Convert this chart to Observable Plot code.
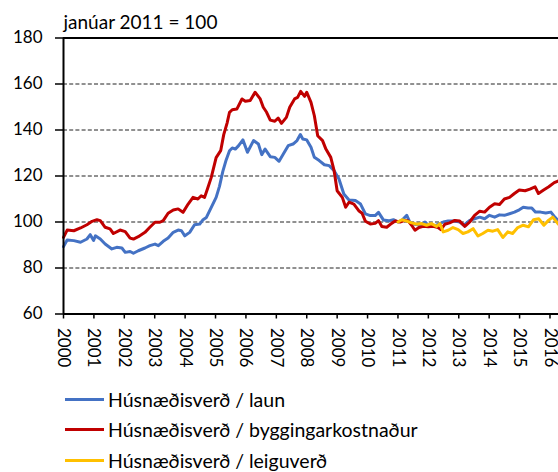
<!DOCTYPE html>
<html><head><meta charset="utf-8">
<script src="https://cdn.jsdelivr.net/npm/d3@7"></script>
<script src="https://cdn.jsdelivr.net/npm/@observablehq/plot@0.6"></script>
<style>
body{margin:0;background:#fff;font-family:Lato,"Open Sans",sans-serif;}
#wrap{position:relative;width:558px;height:472px;overflow:hidden;background:#fff;}
.leg{position:absolute;left:65px;display:flex;align-items:center;font-size:19.5px;color:#000;height:24px;white-space:nowrap;}
.sw{width:39px;height:3px;margin-right:4px;}
</style></head><body><div id="wrap"></div>
<script>
const titleText = "janúar 2011 = 100";
const years = [2000,2001,2002,2003,2004,2005,2006,2007,2008,2009,2010,2011,2012,2013,2014,2015,2016];
const yTicks = [60,80,100,120,140,160,180];
const gridValues = [80,100,120,140,160];
const seriesNames = ["Húsnæðisverð / laun","Húsnæðisverð / byggingarkostnaður","Húsnæðisverð / leiguverð"];
const seriesColors = ["#4472C4","#C00000","#FFC000"];

const launT = [2000.00,2000.12,2000.34,2000.56,2000.77,2000.88,2000.99,2001.05,2001.21,2001.37,2001.59,2001.75,2001.92,2002.03,2002.19,2002.30,2002.46,2002.68,2002.84,2003.01,2003.12,2003.28,2003.44,2003.61,2003.77,2003.88,2003.99,2004.15,2004.31,2004.48,2004.59,2004.70,2004.86,2005.02,2005.13,2005.24,2005.35,2005.46,2005.55,2005.65,2005.76,2005.90,2006.05,2006.25,2006.41,2006.52,2006.63,2006.80,2006.95,2007.09,2007.22,2007.39,2007.55,2007.68,2007.79,2007.87,2008.00,2008.14,2008.25,2008.41,2008.58,2008.74,2008.90,2009.06,2009.22,2009.39,2009.60,2009.77,2009.93,2010.09,2010.25,2010.36,2010.52,2010.69,2010.85,2011.00,2011.13,2011.29,2011.40,2011.56,2011.72,2011.89,2012.00,2012.16,2012.32,2012.49,2012.65,2012.87,2013.03,2013.17,2013.36,2013.52,2013.69,2013.85,2014.01,2014.18,2014.34,2014.50,2014.67,2014.83,2014.99,2015.12,2015.28,2015.40,2015.52,2015.69,2015.86,2016.03,2016.16,2016.28];
const launV = [89.3,92.2,91.9,91.2,92.6,94.5,92.0,94.0,92.6,90.4,88.3,89.0,88.7,86.8,87.2,86.4,87.5,88.7,89.7,90.4,89.7,91.6,93.0,95.5,96.5,96.2,94.0,95.5,98.8,99.1,101.0,102.0,106.4,110.7,115.5,122.0,127.0,131.0,132.2,131.7,133.2,135.7,130.3,135.4,133.9,129.3,131.7,128.4,128.1,126.4,129.3,133.2,133.9,135.4,138.0,136.1,135.7,132.5,128.1,126.7,124.9,124.5,122.3,118.7,112.2,109.6,109.3,107.8,103.5,102.8,102.8,104.2,100.9,100.5,101.0,100.0,100.7,102.9,99.6,99.0,98.6,100.0,98.6,98.1,99.0,100.0,100.4,100.4,100.0,98.6,100.7,101.4,102.1,101.4,102.9,102.1,103.1,102.9,103.6,104.3,105.3,106.4,106.1,106.1,104.3,104.3,103.9,104.3,102.1,100.5];

const byggT = [2000.00,2000.12,2000.34,2000.56,2000.77,2000.94,2001.10,2001.21,2001.37,2001.53,2001.64,2001.86,2002.03,2002.19,2002.30,2002.46,2002.68,2002.84,2003.01,2003.17,2003.28,2003.44,2003.61,2003.77,2003.93,2004.10,2004.26,2004.42,2004.53,2004.64,2004.75,2004.86,2005.02,2005.17,2005.27,2005.38,2005.46,2005.55,2005.70,2005.87,2005.98,2006.14,2006.30,2006.47,2006.57,2006.68,2006.80,2006.95,2007.06,2007.17,2007.33,2007.44,2007.60,2007.70,2007.80,2007.93,2008.00,2008.14,2008.25,2008.36,2008.52,2008.63,2008.79,2008.90,2009.00,2009.17,2009.28,2009.39,2009.55,2009.71,2009.82,2009.93,2010.09,2010.25,2010.36,2010.47,2010.63,2010.79,2010.91,2011.07,2011.23,2011.34,2011.45,2011.56,2011.69,2011.83,2012.00,2012.16,2012.32,2012.41,2012.54,2012.70,2012.87,2013.03,2013.20,2013.36,2013.52,2013.69,2013.85,2014.01,2014.18,2014.34,2014.50,2014.67,2014.83,2014.99,2015.18,2015.34,2015.51,2015.62,2015.79,2015.96,2016.14,2016.28];
const byggV = [93.3,96.5,96.2,97.4,98.8,100.3,101.0,100.6,97.7,97.0,95.0,96.5,95.8,93.0,92.6,93.6,95.5,97.7,99.9,99.9,100.6,103.8,105.2,105.7,104.2,107.8,110.7,110.0,111.4,110.7,115.0,119.4,128.0,131.0,138.0,143.0,147.7,148.8,149.1,153.5,152.5,152.8,156.4,153.5,149.9,147.7,144.3,143.8,145.2,142.9,145.5,149.9,153.5,154.2,156.8,154.6,156.4,152.0,146.2,137.5,135.4,131.7,128.1,122.3,113.6,110.7,106.4,108.6,107.8,104.9,103.8,100.3,99.1,99.4,100.6,98.0,97.7,99.4,100.4,100.0,100.7,100.4,98.6,96.4,97.6,98.1,97.9,98.1,97.6,96.7,99.0,99.6,100.7,100.4,98.1,100.0,102.9,104.7,104.3,106.4,107.9,107.6,110.0,110.7,112.4,113.9,113.6,114.3,115.3,112.4,113.9,115.3,117.1,117.9];

const leigaT = [2011.00,2011.13,2011.29,2011.45,2011.62,2011.78,2011.94,2012.10,2012.27,2012.38,2012.49,2012.65,2012.81,2012.98,2013.14,2013.30,2013.47,2013.63,2013.79,2013.96,2014.12,2014.28,2014.45,2014.61,2014.77,2014.94,2015.12,2015.29,2015.46,2015.63,2015.80,2015.95,2016.09,2016.28];
const leigaV = [100.0,101.0,100.4,99.6,99.0,99.3,98.6,99.3,98.1,99.3,95.7,96.4,97.6,96.7,95.0,95.7,97.1,93.9,95.0,96.4,96.0,96.7,93.3,95.7,95.0,97.6,98.6,97.9,101.0,101.4,98.6,100.7,102.1,99.0];

const rows = [];
[[launT,launV],[byggT,byggV],[leigaT,leigaV]].forEach(([T,V],k)=>{
  T.forEach((t,i)=>rows.push({t, v:V[i], s:seriesNames[k]}));
});

const chart = Plot.plot({
  width: 558, height: 380,
  marginLeft: 63, marginRight: 0, marginTop: 37.5, marginBottom: 66.5,
  style: {fontFamily: "Lato, 'Open Sans', sans-serif", fontSize: "17px", color: "#000", background: "#fff", overflow: "visible"},
  x: {domain: [2000, 2016.28], label: null},
  y: {domain: [60, 180], label: null},
  color: {domain: seriesNames, range: seriesColors},
  marks: [
    Plot.ruleY(gridValues, {stroke: "#222", strokeWidth: 1, strokeDasharray: "4,2.2"}),
    Plot.line(rows, {x: "t", y: "v", z: "s", stroke: "s", strokeWidth: 3, strokeLinejoin: "round"}),
    Plot.ruleY([180], {stroke: "#000", strokeWidth: 2}),
    Plot.ruleY([60], {stroke: "#000", strokeWidth: 2}),
    Plot.ruleX([2000], {stroke: "#000", strokeWidth: 2}),
    Plot.axisX({ticks: years, tickFormat: d => String(d), tickRotate: 90, tickSize: 5, tickPadding: 9, strokeWidth: 1.5, fontSize: 17, label: null}),
    Plot.axisY({ticks: yTicks, tickSize: 8, tickPadding: 13, strokeWidth: 1.5, fontSize: 17, label: null}),
    Plot.text([titleText], {frameAnchor: "top-left", textAnchor: "start", lineAnchor: "bottom", dy: -9, fontSize: 19})
  ]
});
const wrap = document.getElementById("wrap");
wrap.appendChild(chart);
const rowTops = [387, 417.5, 448];
seriesNames.forEach((n,i)=>{
  const d = document.createElement("div");
  d.className = "leg";
  d.style.top = rowTops[i] + "px";
  d.innerHTML = `<span class="sw" style="background:${seriesColors[i]}"></span><span>${n}</span>`;
  wrap.appendChild(d);
});
</script></body></html>
